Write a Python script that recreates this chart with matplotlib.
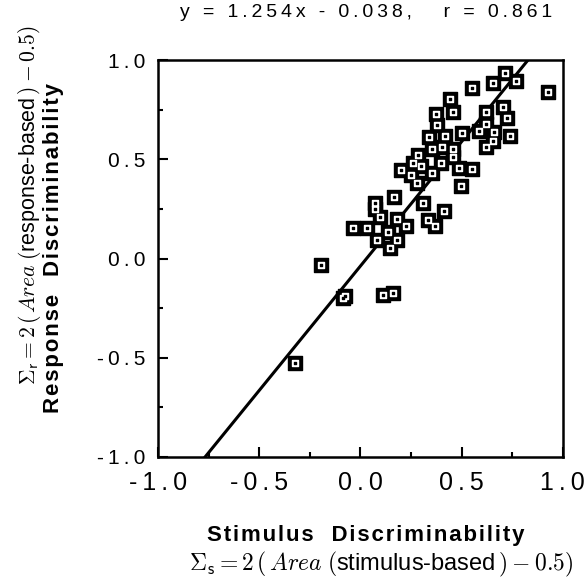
import matplotlib
matplotlib.use("Agg")
import matplotlib.pyplot as plt
import numpy as np

plt.rcParams['font.family'] = ['Liberation Sans', 'DejaVu Sans']
plt.rcParams['mathtext.fontset'] = 'cm'

# stimulus vs response discriminability
stim = [0.714, 0.768, 0.657, 0.551, 0.926, 0.444, 0.457, 0.375, 0.378, 0.620,
        0.706, 0.722, 0.623, 0.588, 0.659, 0.500, 0.420, 0.338, 0.654, 0.737,
        0.623, 0.352, 0.457, 0.401, 0.285, 0.457, 0.398, 0.261, 0.486, 0.554,
        0.203, 0.352, 0.249, 0.302, 0.496, 0.279, 0.168, 0.309, 0.412, 0.072,
        0.070, 0.096, 0.179, 0.333, 0.368, 0.225, 0.031, -0.036, 0.137, 0.083,
        0.179, 0.146, -0.192, -0.077, -0.085, 0.113, 0.160, -0.323]
resp = [0.937, 0.897, 0.884, 0.859, 0.839, 0.804, 0.738, 0.728, 0.673, 0.738,
        0.765, 0.711, 0.680, 0.645, 0.639, 0.634, 0.617, 0.611, 0.592, 0.617,
        0.564, 0.550, 0.550, 0.560, 0.521, 0.510, 0.483, 0.483, 0.456, 0.449,
        0.446, 0.431, 0.423, 0.466, 0.365, 0.382, 0.308, 0.281, 0.242, 0.280,
        0.250, 0.212, 0.199, 0.194, 0.164, 0.164, 0.156, 0.156, 0.135, 0.093,
        0.093, 0.051, -0.033, -0.189, -0.200, -0.184, -0.174, -0.525]

slope = 1.254
intercept = -0.038
r_value = 0.861

ticks = [-1.0, -0.5, 0.0, 0.5, 1.0]
tick_labels = ["-1.0", "-0.5", "0.0", "0.5", "1.0"]


def spaced(s, gap="\u2009"):
    # old typewriter-ish letter spacing
    return gap.join(s)


fig = plt.figure(figsize=(5.85, 5.87), dpi=100)
ax = fig.add_axes([0.270, 0.2215, 0.692, 0.676])

xs = np.array([-1.0, 1.0])
ax.plot(xs, slope * xs + intercept, color='black', linewidth=2.2, zorder=2)

ax.scatter(stim, resp, marker='s', s=95, color='black', zorder=3)
ax.scatter(stim, resp, marker='s', s=18, color='white', zorder=4)
ax.scatter(stim, resp, marker='s', s=2, color='black', zorder=5)

ax.set_xlim(-1, 1)
ax.set_ylim(-1, 1)
ax.set_xticks(ticks)
ax.set_yticks(ticks)
ax.set_xticklabels([spaced(t) for t in tick_labels], fontsize=18)
ax.set_yticklabels([spaced(t) for t in tick_labels], fontsize=15)
ax.set_xticks([-0.75, -0.25, 0.25, 0.75], minor=True)
ax.set_yticks([-0.75, -0.25, 0.25, 0.75], minor=True)
ax.tick_params(which='both', direction='in', width=1.5, top=False, right=False)
ax.tick_params(which='major', length=7)
ax.tick_params(axis='x', which='major', pad=10)
ax.tick_params(axis='y', which='major', pad=9)
ax.tick_params(which='minor', length=3.5)
for sp in ax.spines.values():
    sp.set_linewidth(1.8)

title = f"y = {slope:.3f}x - {abs(intercept):.3f},   r = {r_value:.3f}"
fig.text(0.626, 0.978, spaced(title), fontsize=14, ha='center', va='center')

fig.text(0.626, 0.088, spaced("Stimulus  Discriminability", "\u200a"),
         fontsize=16, fontweight='bold', ha='center', va='center')
fig.text(0.651, 0.039,
         r"$\Sigma_{\mathsf{s}} = 2\,(\,\mathit{Area}\;($stimulus-based$\,) - 0.5)$",
         fontsize=17, ha='center', va='center')

fig.text(0.091, 0.577, spaced("Response  Discriminability", "\u200a"),
         fontsize=16, fontweight='bold', ha='center', va='center', rotation=90)
fig.text(0.051, 0.65,
         r"$\Sigma_{\mathsf{r}} = 2\,(\,\mathit{Area}\;($response-based$\,) - 0.5)$",
         fontsize=15.5, ha='center', va='center', rotation=90)

fig.savefig("out.png", dpi=100)
